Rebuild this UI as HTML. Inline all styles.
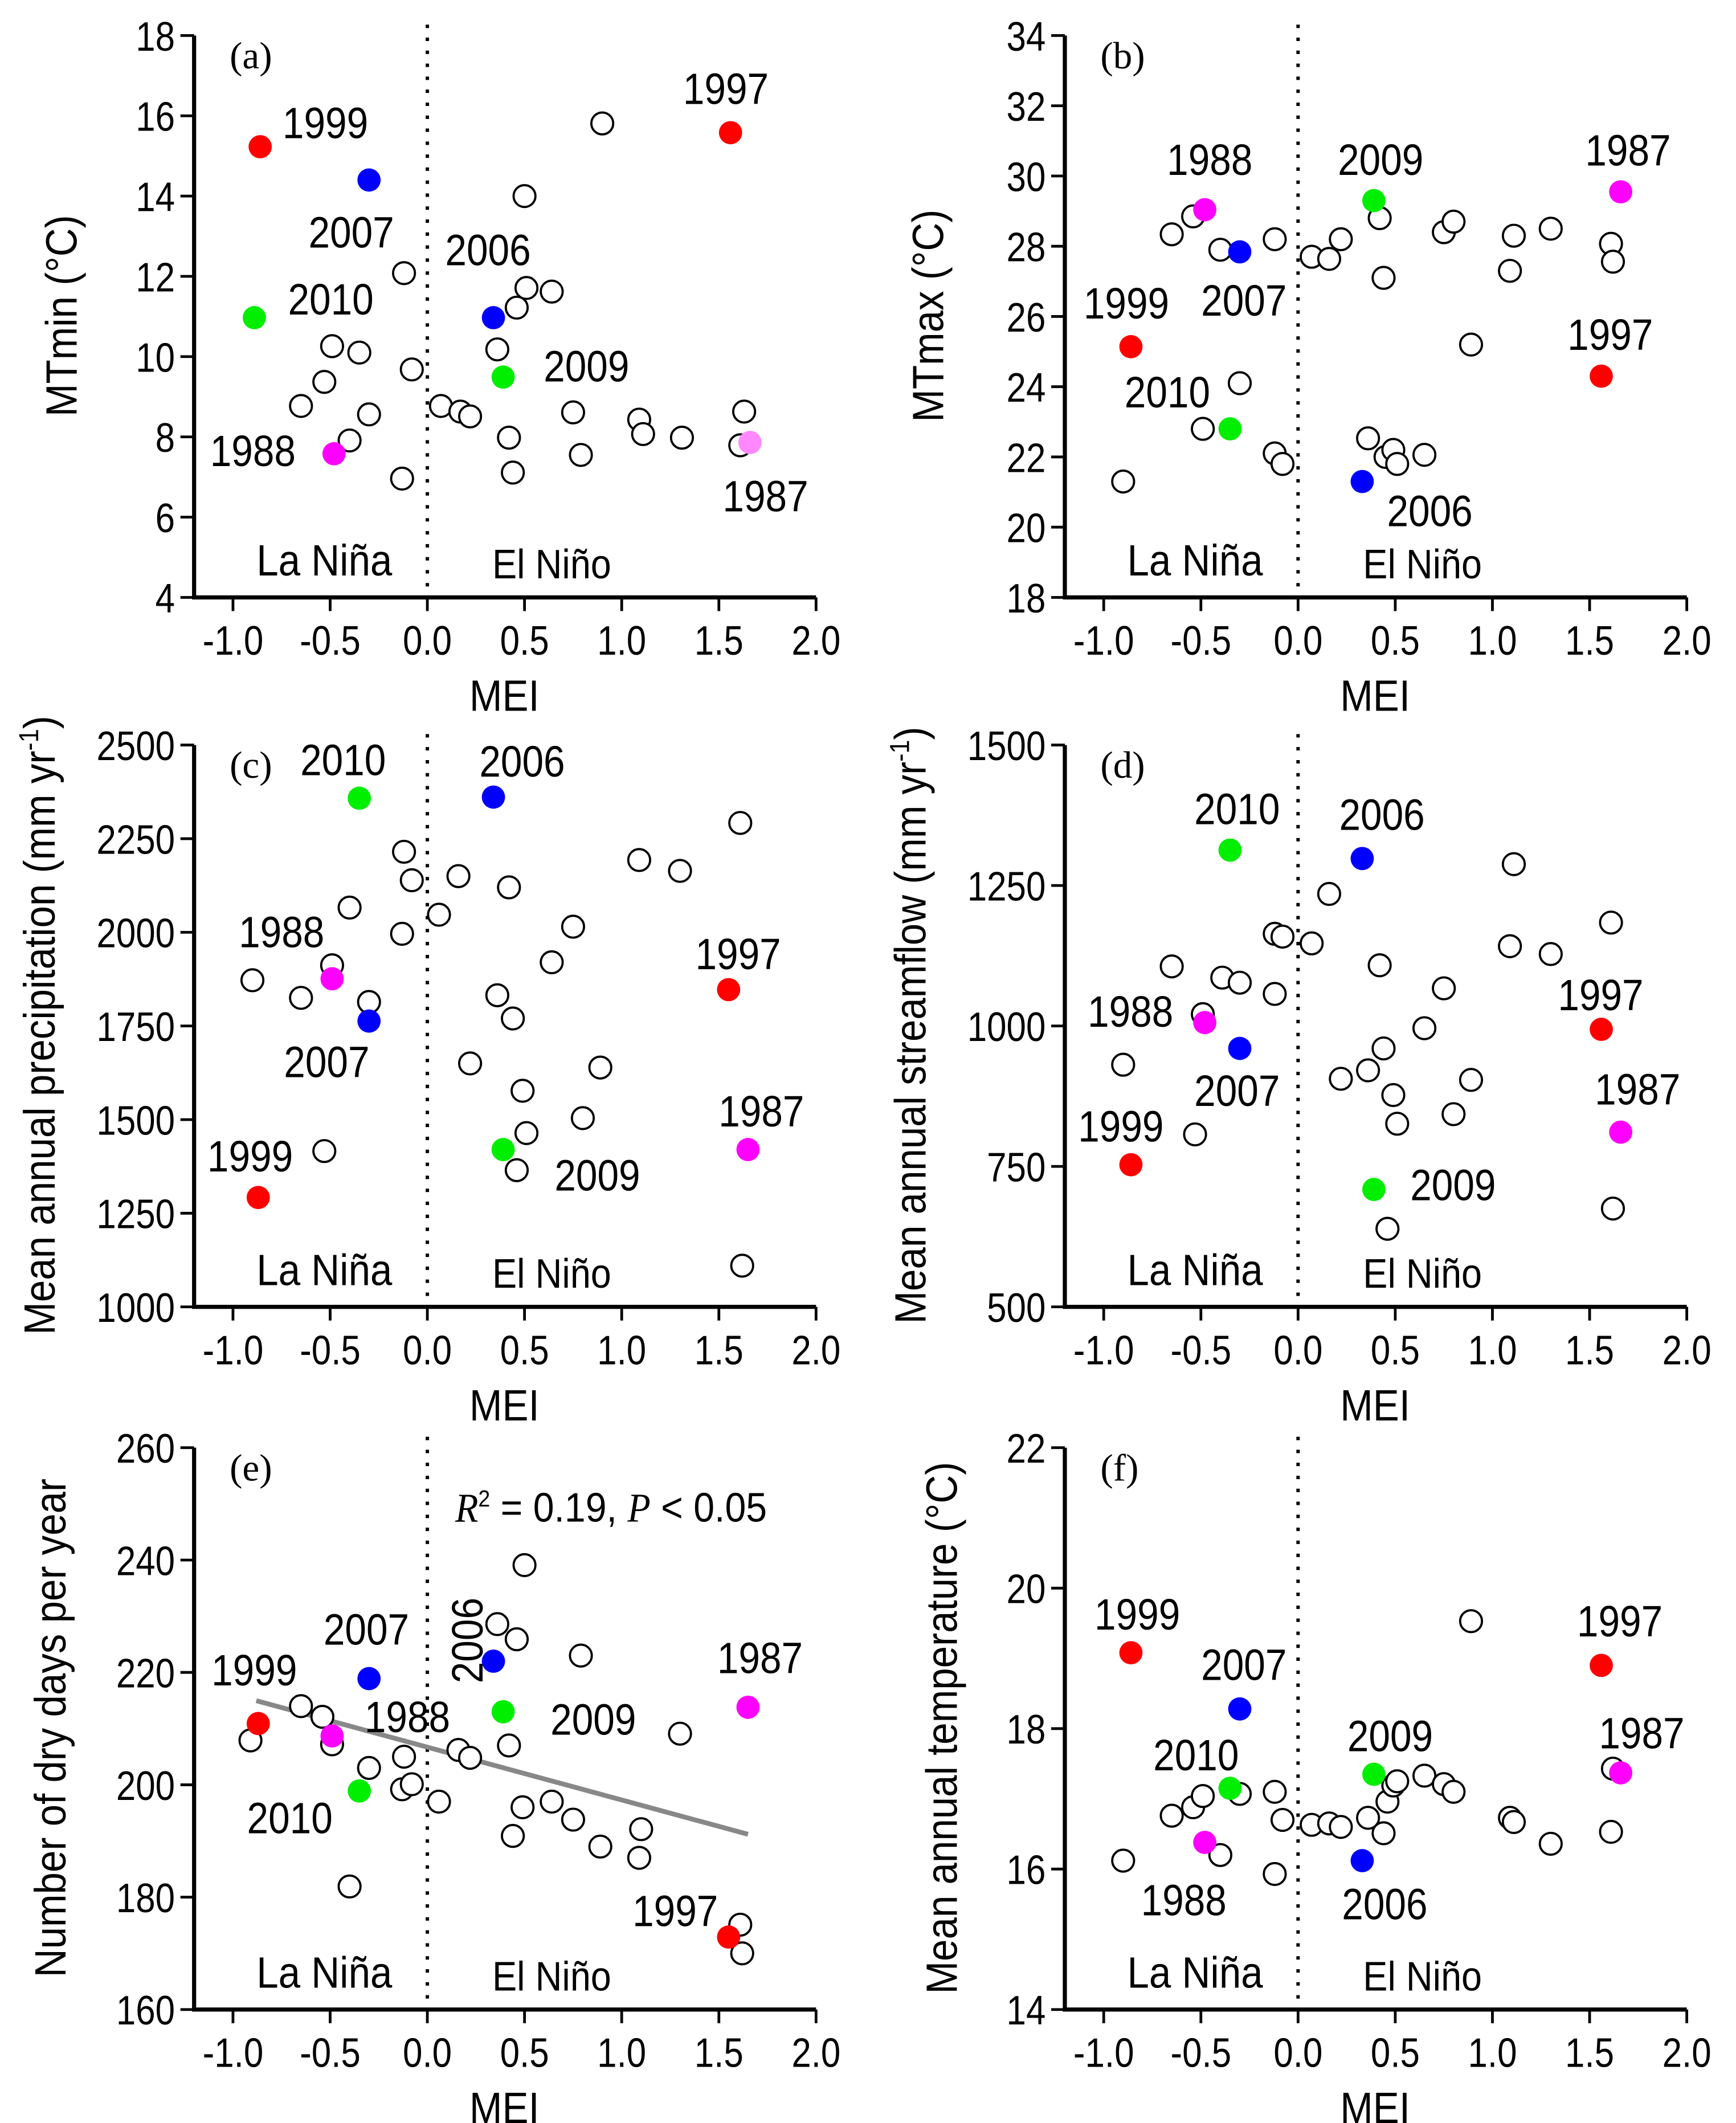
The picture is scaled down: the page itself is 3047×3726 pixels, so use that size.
<!DOCTYPE html>
<html><head><meta charset="utf-8"><style>
html,body{margin:0;padding:0;background:#fff}
svg{display:block}
text{font-family:"Liberation Sans",sans-serif;fill:#000}
.tk{font-size:30px}
.yr{font-size:32px}
.reg{font-size:30px}
.ax{font-size:32px}
.pl{font-family:"Liberation Serif",serif;font-size:28px}
</style></head><body>
<svg id="chart" width="3047" height="3726" viewBox="0 0 1270 1553" xmlns="http://www.w3.org/2000/svg"></svg>
<script>
// ---------- DATA ----------
const xTicks = [-1.0,-0.5,0.0,0.5,1.0,1.5,2.0];
const xTickLabels = ["-1.0","-0.5","0.0","0.5","1.0","1.5","2.0"];
const yearNames = ["1999","2007","2010","1988","2006","2009","1997","1987"];
const yearColors = ["#ff0000","#0000ff","#00ee00","#ff00ff","#0000ff","#00ee00","#ff0000","#ff00ff"];

// panel a: MTmin
const aTicks = [4,6,8,10,12,14,16,18];
const aYearMEI = [-0.86,-0.30,-0.89,-0.48,0.34,0.39,1.56,1.66];
const aYearVal = [15.23,14.4,10.97,7.58,10.97,9.49,15.58,7.86];
const aOpenMEI = [-0.12,-0.49,-0.35,-0.08,-0.53,-0.65,-0.30,-0.40,-0.13,0.90,0.50,0.51,0.64,0.46,0.36,0.07,0.17,0.22,0.42,0.44,0.75,0.79,1.09,1.11,1.31,1.63,1.61];
const aOpenVal = [12.08,10.26,10.1,9.68,9.37,8.77,8.56,7.91,6.96,15.81,14.0,11.71,11.62,11.22,10.18,8.77,8.63,8.51,7.98,7.11,8.61,7.55,8.43,8.07,7.98,8.63,7.79];

// panel b: MTmax
const bTicks = [18,20,22,24,26,28,30,32,34];
const bYearMEI = [-0.86,-0.30,-0.35,-0.48,0.33,0.39,1.56,1.66];
const bYearVal = [25.14,27.84,22.8,29.04,21.3,29.3,24.3,29.55];
const bOpenMEI = [-0.54,-0.65,-0.40,-0.12,0.07,0.16,0.22,0.42,0.44,0.75,0.80,1.11,1.09,1.30,1.61,1.62,0.89,-0.30,-0.90,-0.49,-0.12,-0.08,0.36,0.45,0.49,0.51,0.65];
const bOpenVal = [28.85,28.34,27.9,28.2,27.7,27.64,28.2,28.8,27.1,28.4,28.7,28.3,27.3,28.5,28.07,27.56,25.2,24.1,21.3,22.8,22.1,21.8,22.53,22.0,22.2,21.8,22.06];

// panel c: precipitation
const cTicks = [1000,1250,1500,1750,2000,2250,2500];
const cYearMEI = [-0.87,-0.30,-0.35,-0.49,0.34,0.39,1.55,1.65];
const cYearVal = [1292,1763,2358,1876,2361,1420,1847,1420];
const cOpenMEI = [-0.90,-0.65,-0.40,-0.49,-0.30,-0.12,-0.08,-0.13,-0.53,0.06,0.16,0.42,0.36,0.44,0.22,0.49,0.51,0.46,0.64,0.75,0.89,0.80,1.09,1.30,1.61,1.62];
const cOpenVal = [1872,1825,2066,1912,1814,2215,2139,1996,1416,2047,2150,2120,1832,1770,1650,1577,1464,1365,1920,2015,1639,1504,2193,2164,2292,1110];

// panel d: streamflow
const dTicks = [500,750,1000,1250,1500];
const dYearMEI = [-0.86,-0.30,-0.35,-0.48,0.33,0.39,1.56,1.66];
const dYearVal = [753,960,1313,1006,1298,709,994,811];
const dOpenMEI = [-0.90,-0.53,-0.49,-0.65,-0.39,-0.30,-0.12,-0.08,-0.12,0.07,0.16,0.22,0.36,0.42,0.44,0.49,0.51,0.46,0.65,0.75,0.80,0.89,1.09,1.11,1.30,1.61,1.62];
const dOpenVal = [931,807,1021,1106,1086,1077,1164,1159,1057,1147,1235,906,921,1108,960,877,826,639,996,1067,843,904,1142,1288,1128,1184,675];

// panel e: dry days
const eTicks = [160,180,200,220,240,260];
const eYearMEI = [-0.87,-0.30,-0.35,-0.49,0.34,0.39,1.55,1.65];
const eYearVal = [210.9,218.9,198.9,208.7,222,213,172.9,213.8];
const eOpenMEI = [-0.91,-0.65,-0.54,-0.49,-0.30,-0.40,-0.12,-0.13,-0.08,0.06,0.16,0.22,0.50,0.36,0.46,0.42,0.49,0.44,0.64,0.75,0.79,0.89,1.10,1.09,1.30,1.61,1.62];
const eOpenVal = [207.9,214,212.1,207.2,203,181.9,205,199.2,200.1,197,206.2,204.8,239.1,228.6,225.9,207,196,190.9,197,193.8,223,189,192.1,187,209.1,175.1,170];
const eFitMEI = [-0.88,1.65];
const eFitCoef = [206.7,-9.4]; // intercept, slope

// panel f: mean temperature
const fTicks = [14,16,18,20,22];
const fYearMEI = [-0.86,-0.30,-0.35,-0.48,0.33,0.39,1.56,1.66];
const fYearVal = [19.08,18.28,17.15,16.38,16.12,17.35,18.9,17.37];
const fOpenMEI = [-0.90,-0.65,-0.54,-0.49,-0.40,-0.30,-0.12,-0.08,-0.12,0.07,0.16,0.22,0.36,0.44,0.46,0.49,0.51,0.65,0.75,0.80,0.89,1.09,1.11,1.30,1.61,1.62];
const fOpenVal = [16.12,16.76,16.88,17.04,16.2,17.07,17.1,16.7,15.93,16.63,16.65,16.6,16.73,16.51,16.96,17.19,17.25,17.33,17.21,17.1,19.53,16.73,16.67,16.36,16.53,17.43];

// ---------- DRAWING ----------
const NS="http://www.w3.org/2000/svg";
const svg=document.getElementById('chart');
function mk(tag,attrs,parent,txt){const e=document.createElementNS(NS,tag);for(const k in attrs)e.setAttribute(k,attrs[k]);if(txt!==undefined)e.textContent=txt;(parent||svg).appendChild(e);return e;}
// narrow text: placed at (x,y) and compressed horizontally
function nt(parent,x,y,anchor,cls,str,sx,rot){
  let tr=`translate(${x},${y})`+(rot?` rotate(${rot})`:'')+` scale(${sx},1)`;
  return mk('text',{x:0,y:0,'text-anchor':anchor,class:cls,transform:tr},parent,str);
}

function panel(p){
  const g=mk('g',{});
  
  
  const xL=p.x0, xR=p.x0+455, yT=p.y0, yB=p.y0+411;
  const xs=v=>xL+(v+1.2)/3.2*455;
  const ys=v=>yB-(v-p.ymin)/(p.ymax-p.ymin)*411;
  const ax=mk('path',{d:`M${xL} ${yT} V${yB} H${xR}`,stroke:'#000','stroke-width':3,fill:'none'},g);
  
  
  const zl=mk('line',{x1:xs(0),x2:xs(0),y1:yT-8,y2:yB,stroke:'#000','stroke-width':2.5,'stroke-dasharray':'2.5 7'},g);
  
  
  xTicks.forEach((v,i)=>{
    mk('line',{x1:xs(v),x2:xs(v),y1:yB,y2:yB+10,stroke:'#000','stroke-width':2},g);
    const t=nt(g,xs(v),yB+42,'middle','tk',xTickLabels[i],0.86);
    
    
  });
  p.ticks.forEach(v=>{
    mk('line',{x1:xL-10,x2:xL,y1:ys(v),y2:ys(v),stroke:'#000','stroke-width':2},g);
    const t=nt(g,xL-14,ys(v)+11,'end','tk',String(v),0.86);
    
    
  });
  const xt=nt(g,xL+227,yB+83,'middle','ax','MEI',0.9);
  
  
  const yt=mk('text',{x:0,y:0,'text-anchor':'middle',class:'ax',transform:`translate(${p.ylx},${yT+205}) rotate(-90) scale(0.9,1)`},g);
  yt.innerHTML=p.ylabel;
  
  
  const pl=mk('text',{x:xL+26,y:yT+24,class:'pl'},g,'('+p.id+')');
  
  
  const ln=nt(g,xs(-0.53),yB-16,'middle','ax','La Niña',0.9);
  
  
  const en=nt(g,xs(0.64),yB-14,'middle','reg','El Niño',0.9);
  
  
  if(p.fit){
    const fl=mk('line',{x1:xs(eFitMEI[0]),y1:ys(eFitCoef[0]+eFitCoef[1]*eFitMEI[0]),x2:xs(eFitMEI[1]),y2:ys(eFitCoef[0]+eFitCoef[1]*eFitMEI[1]),stroke:'#888','stroke-width':3.5},g);
    
    
  }
  p.om.forEach((m,i)=>{
    const c=mk('circle',{cx:xs(m),cy:ys(p.ov[i]),r:8,fill:'#fff',stroke:'#000','stroke-width':1.6},g);
    
    
  });
  p.ym.forEach((m,i)=>{
    let col=yearColors[i];
    if(p.id==='a'&&yearNames[i]==='1987')col='#ff88ff';
    const c=mk('circle',{cx:xs(m),cy:ys(p.yv[i]),r:8.5,fill:col},g);
    
    
  });
  p.labels.forEach(l=>{
    let t;
    if(l[3]) t=nt(g,l[1]+11,l[2],'middle','yr',l[0],0.88,-90);
    else t=nt(g,l[1],l[2]+11,'middle','yr',l[0],0.88);
    
    
  });
}

panel({id:'a',x0:142,y0:26,ymin:4,ymax:18,ticks:aTicks,ym:aYearMEI,yv:aYearVal,om:aOpenMEI,ov:aOpenVal,ylx:56,
  ylabel:'MTmin (°C)',labels:[['1999',238,90],['2007',257,170],['2010',242,219],['1988',185,330],['2006',357,183],['2009',429,268],['1997',531,65],['1987',560,363]]});
panel({id:'b',x0:779,y0:26,ymin:18,ymax:34,ticks:bTicks,ym:bYearMEI,yv:bYearVal,om:bOpenMEI,ov:bOpenVal,ylx:690,
  ylabel:'MTmax (°C)',labels:[['1988',885,117],['2009',1010,117],['1987',1191,110],['2007',910,220],['1999',824,222],['1997',1178,245],['2010',854,287],['2006',1046,374]]});
panel({id:'c',x0:142,y0:545,ymin:1000,ymax:2500,ticks:cTicks,ym:cYearMEI,yv:cYearVal,om:cOpenMEI,ov:cOpenVal,ylx:40,
  ylabel:'Mean annual precipitation (mm yr<tspan dy="-12" font-size="20">-1</tspan><tspan dy="12">)</tspan>',labels:[['2010',251,556],['2006',382,557],['1988',206,682],['1997',540,698],['2007',239,777],['1987',557,813],['1999',183,846],['2009',437,860]]});
panel({id:'d',x0:779,y0:545,ymin:500,ymax:1500,ticks:dTicks,ym:dYearMEI,yv:dYearVal,om:dOpenMEI,ov:dOpenVal,ylx:677,
  ylabel:'Mean annual streamflow (mm yr<tspan dy="-12" font-size="20">-1</tspan><tspan dy="12">)</tspan>',labels:[['2010',905,592],['2006',1011,596],['1988',827,740],['1997',1171,728],['2007',905,798],['1987',1198,797],['1999',820,824],['2009',1063,867]]});
panel({id:'e',x0:142,y0:1059,ymin:160,ymax:260,ticks:eTicks,ym:eYearMEI,yv:eYearVal,om:eOpenMEI,ov:eOpenVal,ylx:48,fit:true,
  ylabel:'Number of  dry days per year',labels:[['2007',268,1192],['1999',186,1222],['1988',298,1256],['2010',212,1330],['2006',342,1200,true],['2009',434,1258],['1987',556,1213],['1997',494,1398]]});
panel({id:'f',x0:779,y0:1059,ymin:14,ymax:22,ticks:fTicks,ym:fYearMEI,yv:fYearVal,om:fOpenMEI,ov:fOpenVal,ylx:700,
  ylabel:'Mean annual temperature (°C)',labels:[['1999',832,1181],['2007',910,1218],['2010',875,1284],['2009',1017,1270],['1997',1185,1186],['1987',1201,1268],['1988',866,1390],['2006',1013,1393]]});

const st=mk('text',{x:0,y:0,class:'reg',transform:'translate(333,1113) scale(0.92,1)'});
st.innerHTML='<tspan font-family="Liberation Serif" font-style="italic">R</tspan><tspan dy="-11" font-size="17">2</tspan><tspan dy="11"> = 0.19,  </tspan><tspan font-family="Liberation Serif" font-style="italic">P</tspan><tspan> &lt; 0.05</tspan>';


</script>
</body></html>
